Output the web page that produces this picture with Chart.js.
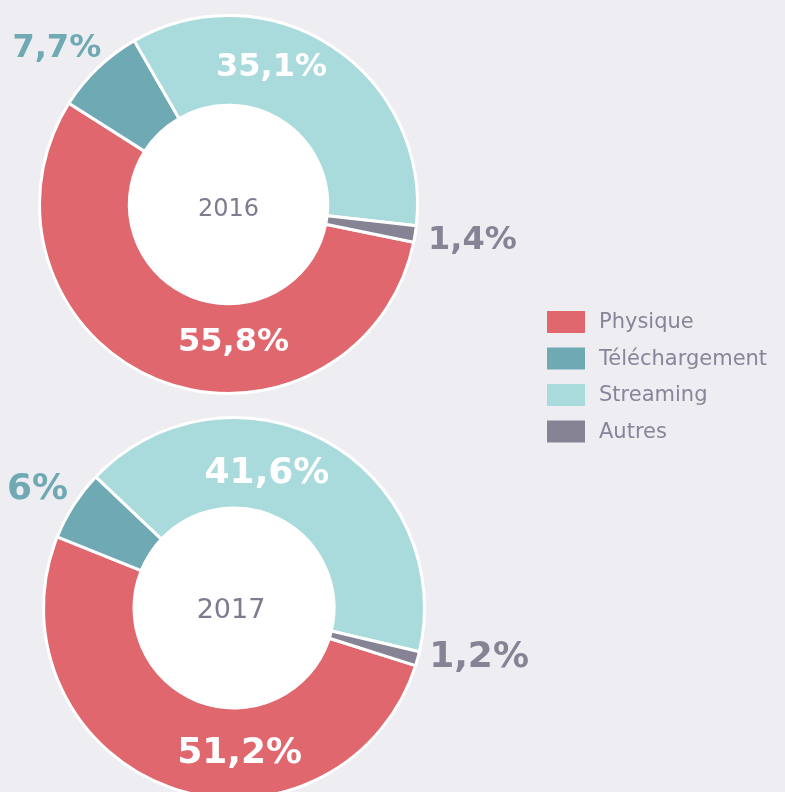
<!DOCTYPE html>
<html><head><meta charset="utf-8">
<script src="https://cdn.jsdelivr.net/npm/chart.js@4"></script>
<style>
html,body{margin:0;padding:0;background:#EEEDF2;width:785px;height:792px;overflow:hidden;}
canvas{position:absolute;left:0;}
#c1{top:0}
#c2{top:400px}
</style></head><body>
<canvas id="c1" width="785" height="460"></canvas>
<canvas id="c2" width="785" height="420"></canvas>
<script>
// ---- data ----
const categories = ['Physique', 'Téléchargement', 'Streaming', 'Autres'];
const years = ['2016', '2017'];
const values2016 = [55.8, 7.7, 35.1, 1.4];
const values2017 = [51.2, 6, 41.6, 1.2];
const colors = ['#E0676D', '#6FAAB4', '#AADBDC', '#858394'];

const fmt = v => String(v).replace('.', ',') + '%';

const decor = {
  id: 'decor',
  beforeDatasetsDraw(chart, args, opts) {
    const arc = chart.getDatasetMeta(0).data[0];
    const p = arc.getProps(['x', 'y', 'innerRadius'], true);
    const ctx = chart.ctx;
    ctx.save();
    ctx.fillStyle = '#ffffff';
    ctx.beginPath();
    ctx.arc(p.x, p.y, p.innerRadius, 0, Math.PI * 2);
    ctx.fill();
    ctx.restore();
  },
  afterDatasetsDraw(chart, args, opts) {
    const ctx = chart.ctx;
    const meta = chart.getDatasetMeta(0);
    const ds = chart.data.datasets[0];
    ctx.save();
    ctx.textAlign = 'center';
    ctx.textBaseline = 'middle';
    let cx = 0, cy = 0;
    meta.data.forEach((arc, i) => {
      const p = arc.getProps(['x', 'y', 'startAngle', 'endAngle', 'outerRadius'], true);
      cx = p.x; cy = p.y;
      const pl = opts.place[i];
      const a = (p.startAngle + p.endAngle) / 2 + pl.shift * Math.PI / 180;
      const r = p.outerRadius * pl.r;
      ctx.font = 'bold ' + opts.labelSize + 'px "DejaVu Sans"';
      ctx.fillStyle = pl.r > 1 ? ds.backgroundColor[i] : '#ffffff';
      ctx.fillText(fmt(ds.data[i]), p.x + r * Math.cos(a), p.y + r * Math.sin(a));
    });
    ctx.font = opts.yearSize + 'px "DejaVu Sans"';
    ctx.fillStyle = '#7E7B90';
    ctx.fillText(opts.year, cx + opts.yearDx, cy + opts.yearDy);
    ctx.restore();
  },
  afterDraw(chart, args, opts) {
    if (!opts.legend) return;
    const ctx = chart.ctx;
    const ds = chart.data.datasets[0];
    ctx.save();
    ctx.textAlign = 'left';
    ctx.textBaseline = 'middle';
    ctx.font = '21px "DejaVu Sans"';
    chart.data.labels.forEach((lab, i) => {
      const top = 311 + i * 36.5;
      ctx.fillStyle = ds.backgroundColor[i];
      ctx.fillRect(547, top, 38, 22);
      ctx.fillStyle = '#878599';
      ctx.fillText(lab, 599, top + 12);
    });
    ctx.restore();
  }
};

function makeChart(id, values, year, rotation, padding, decorOpts) {
  return new Chart(document.getElementById(id), {
    type: 'doughnut',
    data: {
      labels: categories,
      datasets: [{
        data: values,
        backgroundColor: colors,
        borderColor: '#ffffff',
        borderWidth: 3,
        hoverOffset: 0
      }]
    },
    options: {
      responsive: false,
      animation: false,
      events: [],
      rotation: rotation,
      cutout: '52.5%',
      layout: { padding: padding },
      plugins: {
        legend: { display: false },
        tooltip: { enabled: false },
        decor: Object.assign({ year: year }, decorOpts)
      }
    },
    plugins: [decor]
  });
}

makeChart('c1', values2016, years[0], 101.5,
  { left: 38, top: 14, right: 366, bottom: 65 },
  {
    legend: true, labelSize: 32, yearSize: 24, yearDx: 0, yearDy: 5,
    place: [
      { shift: -24, r: 0.73 },
      { shift: -4, r: 1.227 },
      { shift: -15.8, r: 0.757 },
      { shift: -0.5, r: 1.305 }
    ]
  });

makeChart('c2', values2017, years[1], 107.6,
  { left: 42, top: 16, right: 359, bottom: 20 },
  {
    legend: false, labelSize: 36, yearSize: 27, yearDx: -3, yearDy: 3,
    place: [
      { shift: -22, r: 0.764 },
      { shift: -1.6, r: 1.205 },
      { shift: -14.6, r: 0.726 },
      { shift: -4.1, r: 1.312 }
    ]
  });
</script>
</body></html>
